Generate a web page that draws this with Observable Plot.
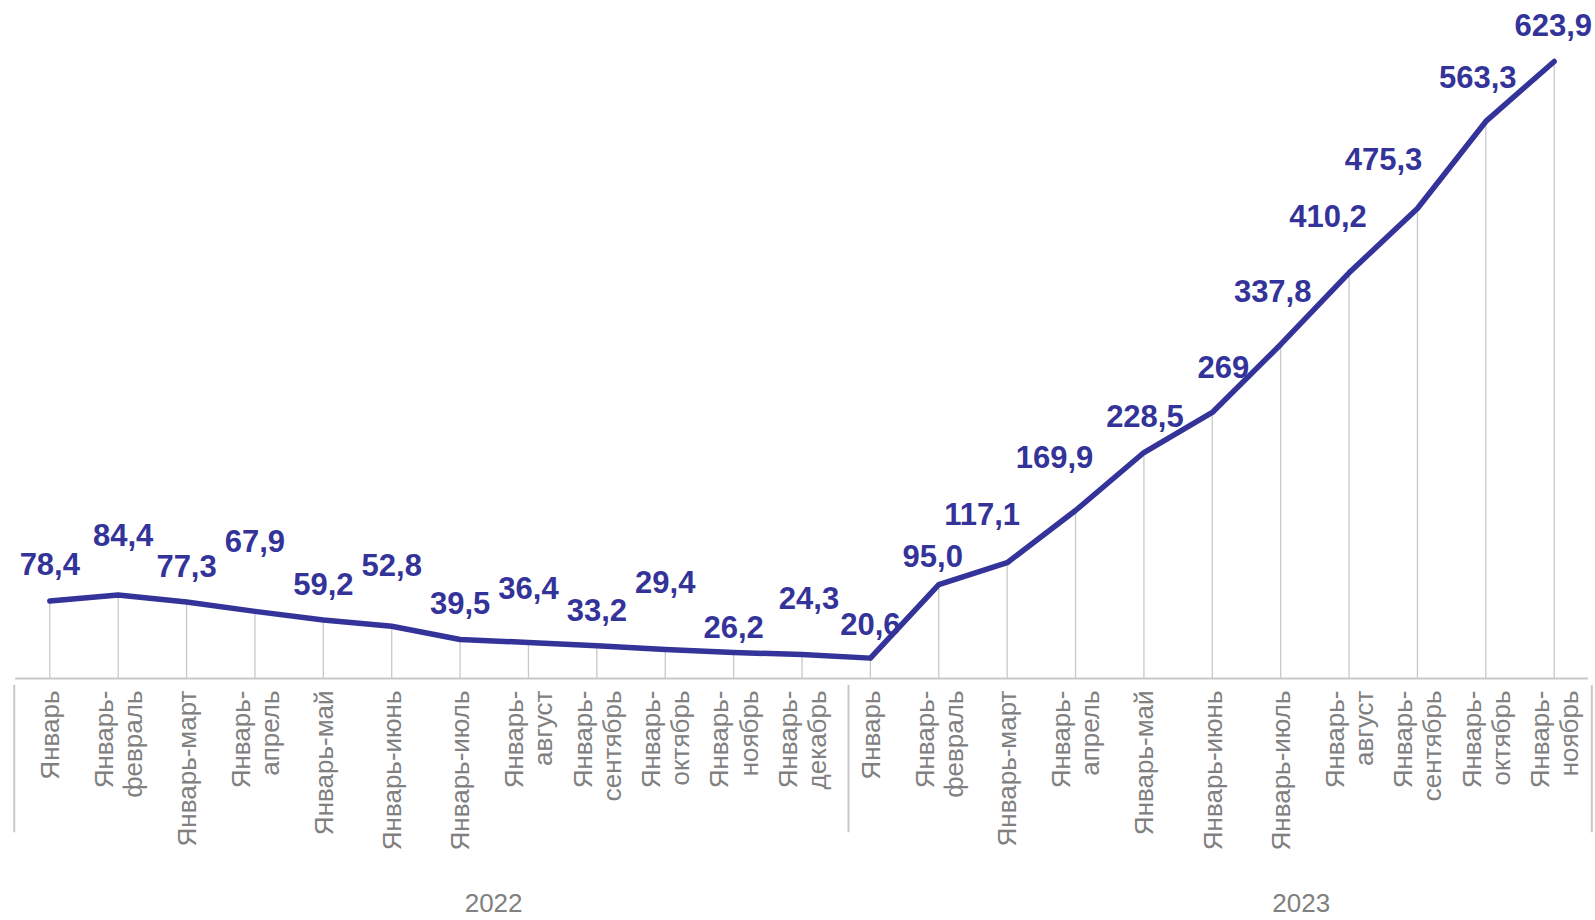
<!DOCTYPE html>
<html><head><meta charset="utf-8">
<script src="https://cdn.jsdelivr.net/npm/d3@7"></script>
<script src="https://cdn.jsdelivr.net/npm/@observablehq/plot@0.6"></script>
<style>body{margin:0;background:#fff} svg{overflow:visible}</style>
</head><body><div id="chart"></div>
<script>
// ---- data ----
const categories = [
  "Январь", "Январь-\nфевраль", "Январь-март", "Январь-\nапрель", "Январь-май", "Январь-июнь",
  "Январь-июль", "Январь-\nавгуст", "Январь-\nсентябрь", "Январь-\nоктябрь", "Январь-\nноябрь", "Январь-\nдекабрь",
  "Январь", "Январь-\nфевраль", "Январь-март", "Январь-\nапрель", "Январь-май", "Январь-июнь",
  "Январь-июль", "Январь-\nавгуст", "Январь-\nсентябрь", "Январь-\nоктябрь", "Январь-\nноябрь"
];
const values = [78.4, 84.4, 77.3, 67.9, 59.2, 52.8, 39.5, 36.4, 33.2, 29.4, 26.2, 24.3,
                20.6, 95.0, 117.1, 169.9, 228.5, 269, 337.8, 410.2, 475.3, 563.3, 623.9];
const valueLabels = ["78,4","84,4","77,3","67,9","59,2","52,8","39,5","36,4","33,2","29,4","26,2","24,3",
                     "20,6","95,0","117,1","169,9","228,5","269","337,8","410,2","475,3","563,3","623,9"];
const years = ["2022", "2023"];

// ---- layout (label placement) ----
const labelDx = [0, 5, 0, 0, 0, 0, 0, 0, 0, 0, 0, 7, 0, -6, -25, -21, 1, 11, -8, -21, -34, -8, -1];
const labelDy = [-36, -59, -35, -69, -35, -60, -35, -53, -35, -66, -25, -55, -33, -27, -48, -52, -35, -44, -52, -56, -48, -43, -35];
const yearPos = [6.49, 18.3];
const separators = [-0.52, 11.68, 22.55];

const pts = values.map((v, i) => ({i, v, label: valueLabels[i], cat: categories[i], dx: labelDx[i], dy: labelDy[i]}));
const navy = "#333399";
const gray = "#808080";
const font = "'Liberation Sans', Arial, sans-serif";

const chart = Plot.plot({
  width: 1595,
  height: 920,
  marginTop: 0, marginBottom: 0, marginLeft: 0, marginRight: 0,
  style: {fontFamily: font, background: "#fff", overflow: "visible"},
  x: {domain: [0, 22], range: [49.3, 1553.7], axis: null},
  y: {domain: [0, 623.9], range: [678, 61], axis: null},
  marks: [
    Plot.ruleX(pts, {x: "i", y1: 0, y2: "v", stroke: "#c8c8c8", strokeWidth: 1.3}),
    Plot.ruleY([0], {x1: -0.5, x2: 22.5, stroke: "#c8c8c8", strokeWidth: 2}),
    Plot.ruleX(separators, {x: d => d, y1: -7, y2: -156, stroke: "#c8c8c8", strokeWidth: 2}),
    Plot.line(pts, {x: "i", y: "v", stroke: navy, strokeWidth: 5.5, strokeLinejoin: "round", strokeLinecap: "round"}),
    ...pts.map(p => Plot.text([p], {x: "i", y: "v", text: "label", dx: p.dx, dy: p.dy,
      fill: navy, fontSize: 31, fontWeight: "bold", textAnchor: "middle", lineAnchor: "middle"})),
    Plot.text(pts, {x: "i", text: "cat", frameAnchor: "bottom", y: () => 0, dy: 12, rotate: -90,
      textAnchor: "end", lineAnchor: "middle", lineHeight: 1.12, fontSize: 26, fill: gray}),
    Plot.text(years, {x: (d, k) => yearPos[k], y: () => 0, dy: 225, text: d => d,
      fontSize: 26, fill: gray, textAnchor: "middle", lineAnchor: "middle"})
  ]
});
document.getElementById("chart").appendChild(chart);
</script>
</body></html>
